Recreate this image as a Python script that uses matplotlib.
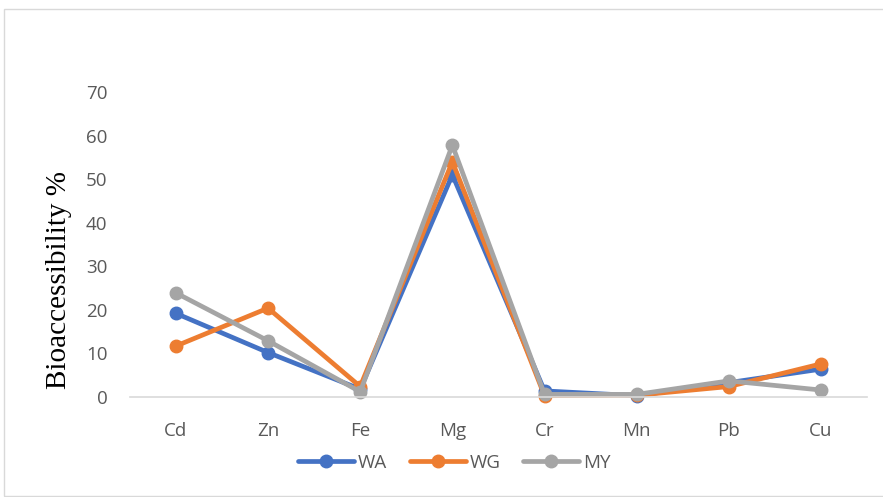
import matplotlib.pyplot as plt
from matplotlib.patches import Rectangle

elements = ['Cd', 'Zn', 'Fe', 'Mg', 'Cr', 'Mn', 'Pb', 'Cu']
wa = [19.2, 10.2, 1.8, 51.0, 1.4, 0.3, 3.3, 6.4]
wg = [11.7, 20.4, 2.4, 54.0, 0.3, 0.4, 2.4, 7.6]
my = [23.9, 12.9, 1.2, 57.8, 0.6, 0.6, 3.7, 1.6]
yticks = [0, 10, 20, 30, 40, 50, 60, 70]

tick_color = '#595959'

fig = plt.figure(figsize=(8.83, 4.97), dpi=100)
ax = fig.add_axes([0.147, 0.2012, 0.835, 0.6137])

x = range(len(elements))
ax.plot(x, wa, color='#4472C4', lw=3.4, marker='o', ms=9, label='WA', solid_capstyle='round')
ax.plot(x, wg, color='#ED7D31', lw=3.4, marker='o', ms=9, label='WG', solid_capstyle='round')
ax.plot(x, my, color='#A5A5A5', lw=3.4, marker='o', ms=9, label='MY', solid_capstyle='round')

ax.set_xlim(-0.5, len(elements) - 0.5)
ax.set_ylim(0, 70)
ax.set_xticks(list(x))
ax.set_xticklabels(elements)
ax.set_yticks(yticks)
ax.tick_params(length=0, labelsize=13.5, colors=tick_color)
ax.tick_params(axis='x', pad=18)
ax.tick_params(axis='y', pad=16)
for lab in ax.get_xticklabels() + ax.get_yticklabels():
    lab.set_family('Open Sans')

for s in ['top', 'right', 'left']:
    ax.spines[s].set_visible(False)
ax.spines['bottom'].set_color('#D9D9D9')
ax.spines['bottom'].set_linewidth(1.2)
for ln in ax.lines:
    ln.set_clip_on(False)

ax.set_ylabel('Bioaccessibility %', family='Liberation Serif', fontsize=21)
ax.yaxis.set_label_coords(-0.079, 0.384)

leg = ax.legend(loc='center', bbox_to_anchor=(0.44, -0.216), ncol=3, frameon=False,
                prop={'family': 'Open Sans', 'size': 13.5}, handlelength=3,
                columnspacing=1.2, handletextpad=0.2)
for t in leg.get_texts():
    t.set_color(tick_color)

fig.patches.append(Rectangle((4 / 883, 0.002), 1.2, (497 - 9) / 497 - 0.002,
                             transform=fig.transFigure, fill=False,
                             edgecolor='#D9D9D9', lw=1))

fig.savefig('out.png', dpi=100)
